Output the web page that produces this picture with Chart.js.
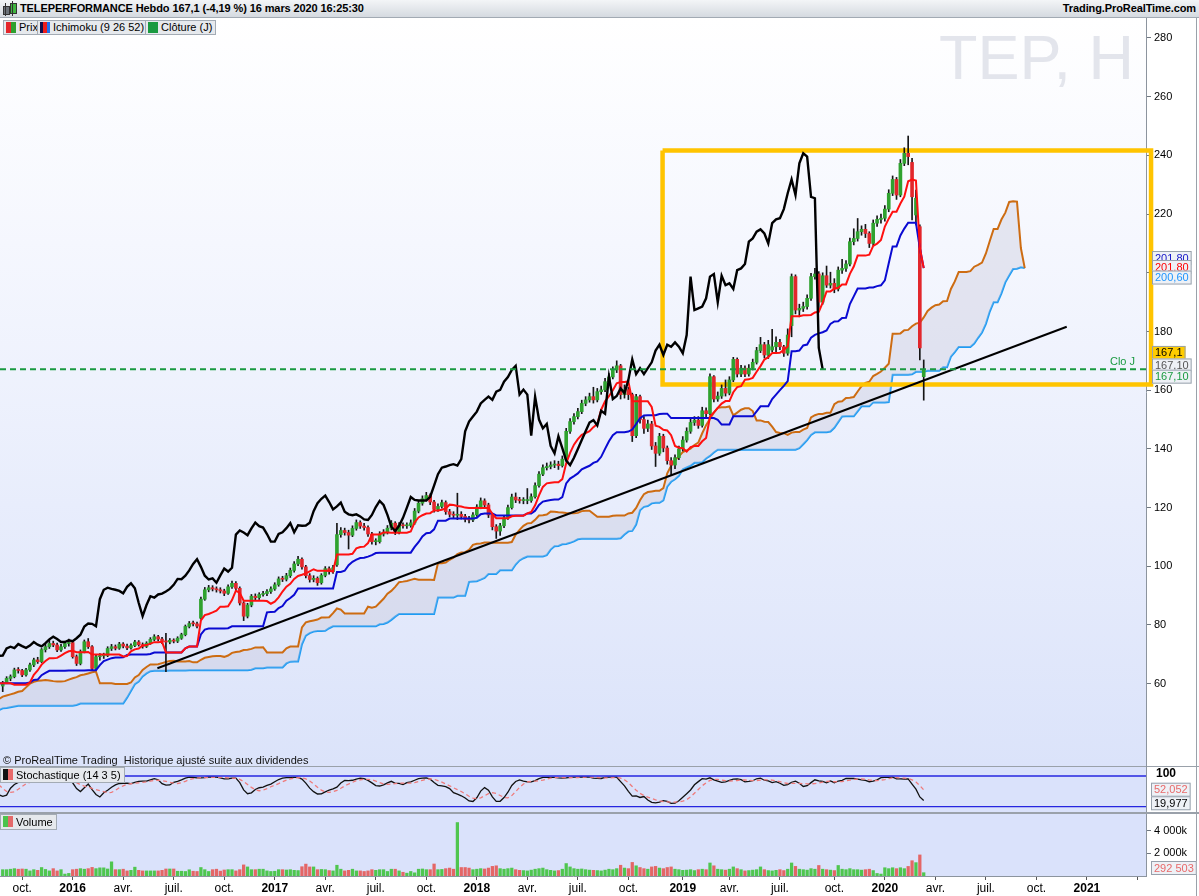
<!DOCTYPE html>
<html lang="fr">
<head>
<meta charset="utf-8">
<title>TELEPERFORMANCE Hebdo</title>
<script src="https://cdn.jsdelivr.net/npm/chart.js@4.4.1/dist/chart.umd.min.js"></script>
<style>
  html, body { margin: 0; padding: 0; }
  body { width: 1199px; height: 896px; position: relative; overflow: hidden; background: #fff;
         font-family: "Liberation Sans", Arial, sans-serif; color: #000; }
  .abs { position: absolute; }
  #hdr { left: 0; top: 0; width: 1199px; height: 18px; background: linear-gradient(#f3f5f7, #d5dae0);
         border-bottom: 1px solid #a2aab3; box-sizing: border-box; z-index: 5; }
  #hdr .t { position: absolute; top: 2px; font-size: 11px; font-weight: bold; white-space: nowrap; letter-spacing: -0.1px; }
  .lg { position: absolute; height: 15px; box-sizing: border-box; border: 1px solid #a3abb4; background: #e6e9ed;
        font-size: 11px; line-height: 13px; white-space: nowrap; padding: 0 3px 0 15px; z-index: 5; }
  .lg i { position: absolute; left: 2px; top: 1px; width: 10px; height: 11px; }
  #pbg { left: 0; top: 18px; width: 1146px; height: 748px;
         background: linear-gradient(to bottom, #ffffff 0%, #f5f7fe 30%, #e8edfc 65%, #dbe3fa 100%); }
  .pane { background: #dae2fb; }
  .sep { background: #9aa1aa; }
  #wm { left: 939px; top: 26px; font-size: 63px; line-height: 63px; color: #e3e5ec; white-space: nowrap; }
  canvas { position: absolute; left: 0; z-index: 2; }
  #copy { left: 3px; top: 754px; font-size: 11px; white-space: nowrap; z-index: 5; color: #111; }
</style>
</head>
<body>
<div id="hdr" class="abs">
  <div class="abs" style="left:3px;top:6px;width:5px;height:7px;background:#6d737a;border:1px solid #333"></div>
  <div class="abs" style="left:5px;top:3px;width:1px;height:13px;background:#333"></div>
  <div class="abs" style="left:10px;top:3px;width:5px;height:9px;background:#3fb53f;border:1px solid #333"></div>
  <div class="abs" style="left:12px;top:1px;width:1px;height:15px;background:#333"></div>
  <div class="t" style="left:20px">TELEPERFORMANCE Hebdo 167,1 (-4,19 %) 16 mars 2020 16:25:30</div>
  <div class="t" style="right:3px">Trading.ProRealTime.com</div>
</div>
<div id="pbg" class="abs"></div>
<div id="wm" class="abs">TEP, H</div>
<div class="abs pane" style="left:0;top:767px;width:1146px;height:45px"></div>
<div class="abs pane" style="left:0;top:814px;width:1146px;height:62px"></div>
<div class="abs sep" style="left:0;top:766px;width:1199px;height:1px"></div>
<div class="abs sep" style="left:0;top:812px;width:1199px;height:2px"></div>
<div class="abs sep" style="left:1196px;top:18px;width:1px;height:878px"></div>

<div class="lg" style="left:3px;top:20px"><i style="background:linear-gradient(90deg,#e5262b 50%,#2ea02e 50%)"></i>Prix</div>
<div class="lg" style="left:37px;top:20px"><i style="background:linear-gradient(90deg,#101050 33%,#ee1c1c 33%,#ee1c1c 66%,#1d6ff0 66%)"></i>Ichimoku (9 26 52)</div>
<div class="lg" style="left:145px;top:20px"><i style="background:#1a9a40"></i>Clôture (J)</div>
<div id="copy" class="abs">© ProRealTime Trading&nbsp; Historique ajusté suite aux dividendes</div>
<div class="lg" style="left:0;top:767px;height:16px;line-height:14px"><i style="background:linear-gradient(90deg,#111 50%,#e86a6a 50%)"></i>Stochastique (14 3 5)</div>
<div class="lg" style="left:0;top:814px;height:16px;line-height:14px"><i style="background:linear-gradient(90deg,#4cc34c 50%,#e46a6a 50%)"></i>Volume</div>

<canvas id="pc" width="1199" height="748" style="top:18px"></canvas>
<canvas id="sc" width="1199" height="46" style="top:766px"></canvas>
<canvas id="vc" width="1199" height="82" style="top:814px"></canvas>

<script>
// weekly bars, first one = week of 31 Aug 2015, last one = week of 16 Mar 2020
const firstWeek = Date.UTC(2015, 7, 31);

// closes of the weeks before the first visible bar (only used by the indicators)
const preClose = [44,45,44.5,45,46,46.5,46,47,47.5,48,47,46.5,47,48,48.5,48,47.5,47,46,
  46,45.5,46,47,47.5,48,48.5,48,47.5,46.5,45,43.5,42,
  40,
  44,48,51,
  52.5,53,54,53.5,54,55,54.5,55,56,57,57.5,58,59,60,61,62,
  63.2,
  63.5,64,64.5,65,64,63,62,61.5,62,63,62,61,60.5,61,62,63,64,65,65.5,66.5,65.5,65,64.5,63.5,
  53.8];

const opens = [59.2,60.2,61.8,62.4,64.7,64.5,63.0,64.7,66.4,68.1,
  67.5,71.6,72.6,73.7,73.2,71.5,72.6,73.7,74.0,69.2,
  66.9,70.9,74.3,72.6,65.2,69.2,69.5,69.6,72.0,72.6,
  72.1,73.5,72.8,72.2,73.0,74.2,73.3,72.7,73.8,75.1,
  76.0,75.2,74.6,74.2,74.8,74.5,75.5,76.7,79.5,80.5,
  80.4,82.3,88.8,92.0,92.7,92.3,92.0,91.6,90.8,93.0,
  94.2,92.5,87.5,83.0,86.8,89.8,89.3,90.4,90.7,91.4,
  92.3,93.7,95.7,95.6,96.8,98.6,100.8,102.4,99.8,96.8,
  95.5,95.9,94.4,96.9,99.2,98.2,100.5,110.8,112.2,111.5,
  110.6,112.9,114.9,113.7,113.2,111.0,108.4,108.4,111.0,111.6,
  113.0,114.7,111.6,114.0,113.8,113.9,114.8,118.8,121.5,123.0,
  124.1,121.9,119.4,120.4,121.7,118.6,117.7,117.4,117.7,117.0,
  116.0,115.8,117.5,120.2,122.3,120.9,117.5,113.5,112.0,113.8,
  116.5,120.0,123.6,122.6,122.4,122.4,122.4,123.7,127.5,131.4,
  133.6,134.0,134.5,134.8,134.3,136.5,146.0,149.3,151.0,152.7,
  155.5,156.7,157.8,156.7,159.5,160.1,162.9,164.5,166.9,168.3,
  158.5,160.2,158.5,144.5,157.8,150.0,147.0,148.5,141.0,138.5,
  144.3,140.3,136.0,134.5,137.0,140.0,143.0,146.0,149.0,149.8,
  148.0,153.0,152.0,164.6,157.0,158.0,160.6,159.0,163.5,170.5,
  165.5,167.5,165.5,167.5,169.5,173.5,175.5,172.0,173.7,174.8,
  176.3,174.8,172.6,182.0,198.7,187.3,187.9,188.5,191.3,198.7,
  199.6,190.0,199.0,195.8,196.4,194.5,200.9,201.5,203.0,210.6,
  211.7,214.0,214.8,213.4,210.0,216.9,218.2,218.6,221.7,227.1,
  231.8,226.5,237.3,240.7,237.6,219.7,215.7,164.6];

const highs = [60.8,62.4,63.0,65.3,65.5,64.9,65.2,67.0,68.7,69.0,
  72.0,73.5,75.0,74.5,73.8,73.4,74.4,75.2,74.6,69.8,
  71.5,74.9,75.4,73.0,69.8,70.3,70.4,72.6,73.4,73.2,
  74.1,74.0,73.5,73.6,74.8,74.7,73.9,74.3,75.7,76.7,
  76.5,75.8,77.2,75.4,75.3,76.0,77.2,80.0,81.2,81.3,
  81.0,89.5,92.8,93.5,93.4,93.0,92.7,92.2,93.7,95.0,
  94.8,93.0,88.0,87.4,90.4,90.6,91.0,91.5,92.1,93.0,
  94.4,96.4,96.6,97.6,99.4,101.6,103.4,102.9,100.3,97.5,
  96.8,96.4,97.5,99.9,99.8,100.3,114.6,113.2,113.0,112.3,
  113.8,115.8,115.5,114.6,113.8,111.6,109.4,111.8,112.5,113.9,
  115.6,115.2,114.9,114.8,114.8,115.8,119.7,122.5,124.0,125.2,
  124.7,122.5,121.3,122.6,122.3,119.4,118.6,124.9,118.6,117.7,
  117.0,118.3,121.0,123.3,123.0,121.5,118.0,114.2,114.6,117.3,
  120.9,124.6,125.0,123.5,123.4,126.5,124.7,128.4,132.3,134.6,
  135.2,135.6,136.0,135.8,137.6,147.0,150.3,152.0,153.8,156.6,
  157.8,159.0,161.0,160.6,161.4,164.0,165.7,168.0,170.0,168.8,
  161.8,161.0,159.0,158.6,158.3,151.0,149.8,149.4,142.2,145.3,
  145.0,141.0,137.0,138.0,141.0,144.2,147.2,150.2,151.0,151.0,
  154.2,154.0,165.6,165.0,159.4,161.8,163.5,164.6,171.2,171.0,
  168.5,168.3,168.7,170.6,174.6,178.0,176.3,177.0,180.7,178.2,
  177.3,175.3,180.9,199.6,199.3,189.3,190.0,192.5,199.8,201.5,
  200.4,200.0,202.3,200.2,198.0,202.0,204.6,204.2,211.8,215.0,
  218.5,216.0,216.5,214.0,218.0,219.4,220.0,222.9,228.3,233.0,
  232.5,238.6,242.6,246.6,239.0,228.2,216.3,170.3];

const lows = [57.3,60.0,61.0,62.0,63.6,62.4,62.6,64.2,65.8,66.9,
  67.2,70.8,72.0,72.6,70.9,71.0,72.0,72.8,68.7,66.2,
  66.4,70.5,72.0,64.5,64.7,68.0,68.6,69.2,71.3,71.5,
  71.7,72.2,71.6,71.8,72.6,72.8,72.1,72.3,73.4,74.6,
  74.6,73.6,64.1,73.6,73.9,74.0,75.1,76.3,79.0,79.7,
  79.0,82.0,88.4,91.3,91.6,91.2,90.9,90.0,90.4,92.5,
  91.8,86.8,81.5,82.4,86.2,88.5,88.7,89.8,90.0,90.8,
  91.8,93.2,94.8,95.0,96.2,98.0,100.2,99.0,96.0,94.6,
  94.7,93.5,93.9,96.4,97.3,97.6,100.0,109.9,110.6,105.9,
  110.1,112.3,112.9,112.3,110.2,107.5,107.3,107.9,110.3,111.0,
  112.4,110.8,111.0,113.0,112.9,113.3,114.3,118.2,120.8,122.3,
  121.0,118.4,118.7,119.8,117.7,116.8,116.5,115.9,116.1,115.1,
  114.8,115.2,117.0,119.6,120.0,116.6,112.4,109.5,110.5,113.2,
  116.0,119.5,121.7,121.5,121.3,121.3,121.8,123.2,127.0,130.9,
  132.8,133.2,133.6,133.0,133.8,136.0,145.3,148.4,150.2,152.0,
  154.7,155.9,155.6,156.0,158.6,159.5,162.0,163.8,166.0,157.0,
  157.3,156.8,142.5,143.8,148.8,145.3,145.9,139.8,134.0,137.8,
  139.0,134.8,131.0,133.3,136.3,139.3,142.3,145.3,148.0,147.0,
  147.4,150.9,151.5,156.0,156.2,157.2,158.0,158.4,162.9,164.5,
  164.6,164.6,164.8,166.9,168.9,172.8,171.0,170.8,173.1,172.6,
  173.8,171.5,171.9,178.2,186.0,185.0,186.8,187.6,190.6,197.8,
  187.5,189.3,195.0,194.8,193.2,193.8,199.8,200.5,202.3,209.5,
  210.8,212.8,212.0,208.6,209.3,215.8,216.9,217.6,220.8,226.3,
  225.0,225.9,236.5,236.8,218.0,216.3,170.3,156.6];

const closes = [60.2,61.8,62.4,64.7,64.5,63.0,64.7,66.4,68.1,67.5,
  71.6,72.6,73.7,73.2,71.5,72.6,73.7,74.0,69.2,66.9,
  70.9,74.3,72.6,65.2,69.2,69.5,69.6,72.0,72.6,72.1,
  73.5,72.8,72.2,73.0,74.2,73.3,72.7,73.8,75.1,76.0,
  75.2,74.2,74.2,74.8,74.5,75.5,76.7,79.5,80.5,80.4,
  79.6,88.8,92.0,92.7,92.3,92.0,91.6,90.8,93.0,94.2,
  92.5,87.5,83.0,86.8,89.8,89.3,90.4,90.7,91.4,92.3,
  93.7,95.7,95.6,96.8,98.6,100.8,102.4,99.8,96.8,95.5,
  95.9,94.4,96.9,99.2,98.2,99.5,110.8,112.2,111.5,110.6,
  112.9,114.9,113.7,113.2,111.0,108.4,108.4,111.0,111.6,113.0,
  114.7,111.6,114.0,113.8,113.9,114.8,118.8,121.5,123.0,124.1,
  121.9,119.4,120.4,121.7,118.6,117.7,117.4,117.7,117.0,116.0,
  115.8,117.5,120.2,122.3,120.9,117.5,113.5,112.0,113.8,116.5,
  120.0,123.6,122.6,122.4,122.4,122.4,123.7,127.5,131.4,133.6,
  134.0,134.5,134.8,134.3,136.5,146.0,149.3,151.0,152.7,155.5,
  156.7,157.8,156.7,159.5,160.1,162.9,164.5,166.9,168.3,158.5,
  160.2,158.5,144.5,157.8,150.0,147.0,148.5,141.0,138.5,144.3,
  140.3,136.0,134.5,137.0,140.0,143.0,146.0,149.0,149.8,148.0,
  153.0,152.0,164.6,157.0,158.0,160.6,159.0,163.5,170.5,165.5,
  167.5,165.5,167.5,169.5,173.5,175.5,172.0,175.5,174.8,176.3,
  174.8,172.6,178.8,198.7,187.3,187.9,188.5,191.3,198.7,199.6,
  190.0,199.0,195.8,196.4,194.5,200.9,201.5,203.0,210.6,211.7,
  214.0,214.8,213.4,210.0,216.9,218.2,218.6,221.7,227.1,231.8,
  226.5,237.3,240.7,239.6,225.9,225.4,174.4,167.1];

// weekly volume, thousands of shares
const volumes = [560,560,600,650,600,620,600,450,560,500,
  750,580,450,650,450,560,170,230,560,600,
  650,600,650,760,650,720,720,620,1250,560,
  560,600,450,500,780,500,450,450,450,450,
  450,500,620,620,620,420,420,400,550,420,
  400,750,560,400,560,600,430,530,560,560,
  450,560,980,800,560,560,600,600,450,400,
  420,560,560,530,560,500,480,820,1050,800,
  800,560,580,560,480,450,950,600,450,500,
  600,450,450,400,450,560,500,560,560,400,
  600,600,450,330,250,400,280,600,620,560,
  560,1060,560,580,650,700,600,4720,750,750,
  700,560,600,650,620,700,850,900,650,600,
  650,700,560,500,480,450,520,600,650,700,
  560,500,450,480,600,1100,800,650,600,620,
  560,520,500,480,450,520,600,560,650,950,
  700,650,1200,900,750,650,600,800,850,700,
  650,750,800,600,560,500,520,560,480,560,
  600,560,1150,900,600,560,520,600,800,650,
  560,450,480,520,560,800,560,480,450,500,
  560,480,600,1150,850,600,560,520,650,600,
  930,600,560,520,480,930,600,560,650,560,
  560,520,560,600,480,225,170,730,650,730,
  650,730,650,845,1350,1180,1860,292.503];

const priceTicks = [60, 80, 100, 120, 140, 160, 180, 200, 220, 240, 260, 280];
const volumeTicks = [2000, 4000];
const stochLevels = [100, 0];
const quarterNames = ['', 'avr.', 'juil.', 'oct.'];
const trendLine = [{x: 39.8, y: 65.25}, {x: 273.8, y: 181.6}];
const boxWeeks = [169.8, 295.5];
const boxPrices = [161.9, 241.7];
const tagLabels = ['201,80', '201,80', '200,60', '167,1', '167,10', '167,10'];
const tagValues = [201.80, 201.80, 200.60, 167.1, 167.10, 167.10];
const stochTagLabels = ['52,052', '19,977'];
const stochTagValues = [52.052, 19.977];

const FONT = '"Liberation Sans", Arial, sans-serif';
const X_MIN = -0.7, X_MAX = 294.2;
const N = closes.length;
const P = preClose.length;
const H = preClose.concat(highs), L = preClose.concat(lows), C = preClose.concat(closes);

function midRange(i, n) {
  let hh = -Infinity, ll = Infinity;
  for (let k = i - n + 1; k <= i; k++) { hh = Math.max(hh, H[k + P]); ll = Math.min(ll, L[k + P]); }
  return (hh + ll) / 2;
}

// ichimoku 9 26 52
const tenkan = [], kijun = [], ssa = [], ssb = [], chikou = [];
for (let i = -1; i < N; i++) {
  tenkan.push({x: i, y: midRange(i, 9)});
  kijun.push({x: i, y: midRange(i, 26)});
}
for (let i = -27; i < N; i++) {
  ssa.push({x: i + 26, y: (midRange(i, 9) + midRange(i, 26)) / 2});
  ssb.push({x: i + 26, y: midRange(i, 52)});
}
for (let i = 0; i < N; i++) chikou.push({x: i - 26, y: closes[i]});

// stochastique 14 3 5
function rawK(i) {
  let hh = -Infinity, ll = Infinity;
  for (let k = i - 13; k <= i; k++) { hh = Math.max(hh, H[k + P]); ll = Math.min(ll, L[k + P]); }
  return hh > ll ? (C[i + P] - ll) / (hh - ll) * 100 : 50;
}
const kVal = i => (rawK(i) + rawK(i - 1) + rawK(i - 2)) / 3;
const stochK = [], stochD = [];
for (let i = -2; i < N; i++) {
  stochK.push({x: i, y: kVal(i)});
  let s = 0;
  for (let k = 0; k < 5; k++) s += kVal(i - k);
  stochD.push({x: i, y: s / 5});
}

// date ticks: first weekly bar of each quarter
const xTicks = [];
for (let y = 2015; y <= 2021; y++) {
  for (let q = 0; q < 4; q++) {
    const idx = Math.ceil((Date.UTC(y, q * 3, 1) - firstWeek) / (7 * 864e5));
    if (idx < X_MIN || idx > X_MAX) continue;
    xTicks.push({value: idx, major: q === 0, txt: idx > 285 ? '' : (q === 0 ? String(y) : quarterNames[q])});
  }
}

const GREEN = '#2fa22f', RED = '#e2272c';
const rightAxis = w => a => { a.width = w; a.paddingTop = 0; a.paddingBottom = 0; };
const noTip = { legend: {display: false}, tooltip: {enabled: false} };

function tagBox(ctx, x, yc, text, color, bg) {
  ctx.font = '11px ' + FONT;
  const w = ctx.measureText(text).width + 6;
  ctx.fillStyle = bg || '#eef1f6';
  ctx.fillRect(x, yc - 7, w, 14);
  ctx.strokeStyle = '#98a1ac';
  ctx.lineWidth = 1;
  ctx.strokeRect(x + 0.5, yc - 6.5, w - 1, 13);
  ctx.fillStyle = color;
  ctx.textBaseline = 'middle';
  ctx.textAlign = 'left';
  ctx.fillText(text, x + 3, yc + 0.5);
}

const priceTags = {
  id: 'priceTags',
  afterDraw(chart) {
    const {ctx, scales: {y}} = chart;
    const colors = ['#1414c8', '#ff0000', '#1e96ff', '#000', '#555', '#1a9a40'];
    const shift = [-9.5, -0.5, 6.5, -16.4, -3.9, 7.3];
    ctx.save();
    ctx.font = '11px ' + FONT;
    ctx.fillStyle = '#1a9a40';
    ctx.textAlign = 'right';
    ctx.textBaseline = 'middle';
    ctx.fillText('Clo J', 1135, y.getPixelForValue(closes[N - 1]) - 7.5);
    tagLabels.forEach((t, k) => {
      const yc = y.getPixelForValue(tagValues[k]) + shift[k];
      tagBox(ctx, 1152, yc, t, colors[k], k === 3 ? '#ffcc00' : null);
    });
    ctx.restore();
  }
};

new Chart(document.getElementById('pc'), {
  type: 'line',
  data: {
    datasets: [
      {label: 'Senkou A', data: ssa, borderColor: '#cd6c12', borderWidth: 2, pointRadius: 0,
       fill: {target: 1, above: 'rgba(196,198,216,0.36)', below: 'rgba(196,198,216,0.36)'}, order: 10},
      {label: 'Senkou B', data: ssb, borderColor: '#1c9cf5', borderWidth: 2, pointRadius: 0, fill: false, order: 10},
      {label: 'Zone', data: [
          {x: boxWeeks[0], y: boxPrices[1]}, {x: boxWeeks[1], y: boxPrices[1]},
          {x: boxWeeks[1], y: boxPrices[0]}, {x: boxWeeks[0], y: boxPrices[0]},
          {x: boxWeeks[0], y: boxPrices[1]}],
       borderColor: '#ffc400', borderWidth: 4.5, borderJoinStyle: 'miter', pointRadius: 0, fill: false, clip: false, order: 9},
      {type: 'bar', label: 'Mèches', data: closes.map((c, i) => ({x: i, y: [lows[i], highs[i]]})),
       backgroundColor: '#151515', barThickness: 1, grouped: false, order: 8},
      {type: 'bar', label: 'Prix', data: closes.map((c, i) => ({x: i, y: [opens[i], c]})),
       backgroundColor: closes.map((c, i) => c >= opens[i] ? GREEN : RED),
       barThickness: 3, minBarLength: 1, grouped: false, order: 7},
      {label: 'Kijun', data: kijun, borderColor: '#0a0ad2', borderWidth: 2, pointRadius: 0, fill: false, order: 5},
      {label: 'Tenkan', data: tenkan, borderColor: '#ff1010', borderWidth: 2, pointRadius: 0, fill: false, order: 4},
      {label: 'Chikou', data: chikou, borderColor: '#000', borderWidth: 2.4, pointRadius: 0, fill: false, order: 3},
      {label: 'Clôture (J)', data: [{x: X_MIN, y: closes[N - 1]}, {x: X_MAX, y: closes[N - 1]}],
       borderColor: '#1a9a40', borderWidth: 2, borderDash: [6, 4], pointRadius: 0, fill: false, order: 2},
      {label: 'Tendance', data: trendLine, borderColor: '#000', borderWidth: 2, pointRadius: 0, fill: false, order: 2}
    ]
  },
  options: {
    responsive: false, animation: false, events: [],
    layout: {padding: 0},
    plugins: noTip,
    scales: {
      x: {type: 'linear', min: X_MIN, max: X_MAX, display: false, offset: false},
      y: {position: 'right', min: 31.96, max: 286.81,
          afterBuildTicks: a => { a.ticks = priceTicks.map(v => ({value: v})); },
          afterFit: rightAxis(53),
          grid: {drawOnChartArea: false, tickLength: 5, color: '#6f7780'},
          border: {color: '#8c949e'},
          ticks: {padding: 3, color: '#000', font: {family: FONT, size: 11}, callback: v => String(v)}}
    }
  },
  plugins: [priceTags]
});

const stochTags = {
  id: 'stochTags',
  afterDraw(chart) {
    const {ctx, scales: {y}} = chart;
    ctx.save();
    ctx.font = 'bold 12px ' + FONT;
    ctx.fillStyle = '#000';
    ctx.textBaseline = 'middle';
    ctx.fillText('100', 1156, y.getPixelForValue(stochLevels[0]) - 2);
    tagBox(ctx, 1151, y.getPixelForValue(stochTagValues[0]) - 1, stochTagLabels[0], '#e86a6a');
    tagBox(ctx, 1151, y.getPixelForValue(stochTagValues[1]) + 2.7, stochTagLabels[1], '#000');
    ctx.restore();
  }
};

new Chart(document.getElementById('sc'), {
  type: 'line',
  data: {
    datasets: [
      {label: 'haut', data: [{x: X_MIN, y: stochLevels[0]}, {x: X_MAX, y: stochLevels[0]}], borderColor: '#2626e0', borderWidth: 1.3, pointRadius: 0},
      {label: 'bas', data: [{x: X_MIN, y: stochLevels[1]}, {x: X_MAX, y: stochLevels[1]}], borderColor: '#2626e0', borderWidth: 1.3, pointRadius: 0},
      {label: '%D', data: stochD, borderColor: '#ef7a7a', borderWidth: 1.3, borderDash: [4, 3], pointRadius: 0},
      {label: '%K', data: stochK, borderColor: '#111', borderWidth: 1.3, pointRadius: 0}
    ]
  },
  options: {
    responsive: false, animation: false, events: [],
    layout: {padding: 0},
    plugins: noTip,
    scales: {
      x: {type: 'linear', min: X_MIN, max: X_MAX, display: false},
      y: {position: 'right', min: -17.3, max: 132.6, afterFit: rightAxis(53),
          grid: {drawOnChartArea: false, drawTicks: false}, border: {color: '#8c949e'},
          ticks: {display: false}}
    }
  },
  plugins: [stochTags]
});

const volTag = {
  id: 'volTag',
  afterDraw(chart) {
    const {ctx} = chart;
    const v = String(Math.round(volumes[N - 1] * 1000)).replace(/\B(?=(\d{3})+(?!\d))/g, ' ');
    ctx.save();
    tagBox(ctx, 1151, 54, v, '#e86a6a');
    ctx.restore();
  }
};

new Chart(document.getElementById('vc'), {
  type: 'bar',
  data: {
    datasets: [{label: 'Volume', data: volumes.map((v, i) => ({x: i, y: v})),
      backgroundColor: closes.map((c, i) => c >= opens[i] ? '#4fc64f' : '#e46666'),
      barThickness: 2.6, grouped: false}]
  },
  options: {
    responsive: false, animation: false, events: [],
    layout: {padding: 0},
    plugins: noTip,
    scales: {
      x: {type: 'linear', min: X_MIN, max: X_MAX, offset: false, position: 'bottom',
          afterBuildTicks: a => { a.ticks = xTicks.map(t => ({...t})); },
          afterFit: a => { a.height = 20; a.paddingLeft = 0; a.paddingRight = 0; },
          grid: {drawOnChartArea: false, tickLength: 4, color: '#555', offset: false},
          border: {color: '#8c949e'},
          ticks: {autoSkip: false, maxRotation: 0, padding: 1, color: '#000',
                  callback: (v, i, t) => t[i].txt,
                  font: c => ({family: FONT, size: 12, weight: c.tick && c.tick.major ? 'bold' : 'normal'})}},
      y: {position: 'right', min: 0, max: 5475,
          afterBuildTicks: a => { a.ticks = volumeTicks.map(v => ({value: v})); },
          afterFit: rightAxis(53),
          grid: {drawOnChartArea: false, tickLength: 5, color: '#6f7780'},
          border: {color: '#8c949e'},
          ticks: {padding: 3, color: '#000', font: {family: FONT, size: 11},
                  callback: v => (v / 1000) + ' 000k'}}
    }
  },
  plugins: [volTag]
});
</script>
</body>
</html>
